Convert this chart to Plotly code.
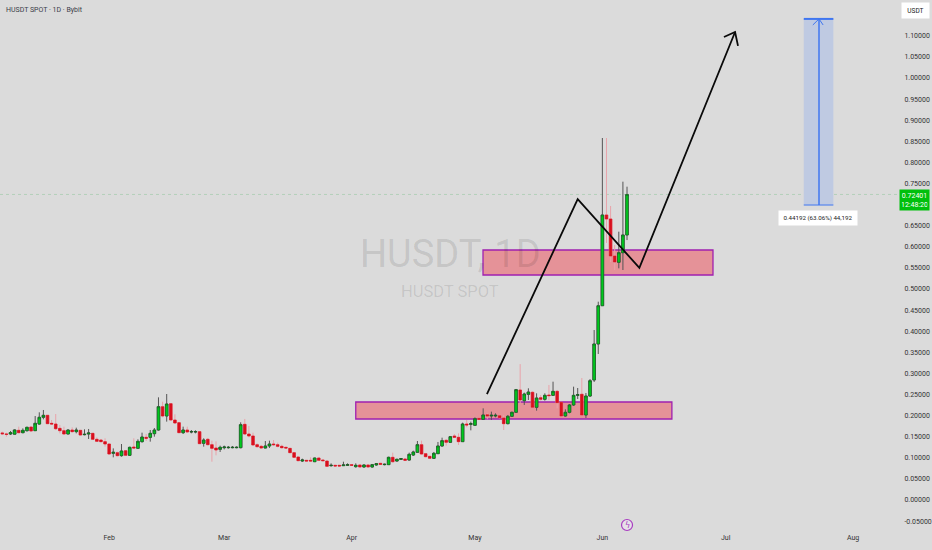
import pandas as pd
import plotly.graph_objects as go

start_date = "2025-01-06"
opens = [.159,.1564,.1564,.156,.1651,.1596,.1643,.173,.1643,.18,
.196,.2007,.1817,.1801,.1698,.1643,.1564,.1659,.162,.1651,
.1548,.1564,.158,.1438,.1422,.1383,.1327,.1106,.1122,.1051,
.1169,.1059,.1256,.1225,.1383,.1485,.1485,.1572,.1659,.2212,
.1991,.2283,.1896,.1833,.1596,.1659,.1612,.1612,.162,.1343,
.1438,.1311,.1232,.1201,.124,.124,.124,.124,.124,.1793,
.1564,.1517,.1311,.1272,.1232,.128,.1327,.1311,.1272,.1248,
.1224,.1122,.1019,.0924,.094,.094,.0908,.0995,.0948,.0924,
.0814,.0822,.0822,.0814,.0822,.0838,.079,.083,.0782,.083,
.0782,.083,.0869,.0838,.0838,.1011,.0924,.0964,.0972,.0948,
.1066,.113,.1311,.1098,.1035,.0988,.1098,.128,.1414,.1367,
.1517,.1485,.1383,.1801,.1793,.177,.1936,.1912,.2022,.1991,
.1991,.1999,.1943,.1809,.1983,.2078,.2607,.2354,.2504,.2552,
.2196,.2425,.2386,.2488,.248,.2575,.2315,.1991,.2078,.2252,
.248,.2505,.2014,.2464,.2844,.3697,.4604,.6754,.6659,.5782,
.5632,.586,.628]
highs = [.162,.1596,.1635,.1675,.1738,.1698,.1738,.1738,.199,.2078,
.2133,.2007,.1896,.2038,.1778,.1738,.1675,.1722,.1714,.1659,
.1675,.1683,.1588,.1485,.1438,.1462,.1327,.1224,.1146,.1327,
.1185,.1264,.1462,.1438,.1596,.1564,.1659,.1706,.2433,.233,
.2512,.2291,.203,.1841,.1738,.1738,.1659,.1651,.1628,.1462,
.147,.1406,.139,.1288,.1288,.128,.128,.1272,.1841,.192,
.1754,.1596,.1343,.1304,.1398,.1406,.1422,.1359,.1311,.1264,
.1232,.113,.1027,.098,.0948,.1011,.1003,.1003,.0956,.0932,
.0869,.083,.083,.0908,.0869,.0846,.0869,.0838,.0846,.0838,
.0854,.0877,.0877,.0861,.1027,.1122,.098,.0995,.098,.1122,
.1169,.1398,.1406,.1106,.1043,.1138,.1375,.1477,.1446,.1517,
.1564,.158,.1833,.1896,.1857,.1959,.1959,.2172,.2054,.2094,
.2054,.2015,.2015,.2015,.2094,.2631,.322,.2544,.2647,.2575,
.2528,.2488,.2528,.2726,.2804,.2607,.2323,.2149,.2275,.2686,
.2654,.2891,.2536,.2867,.4028,.4699,.8578,.8578,.6967,.6043,
.6358,.7543,.7424]
lows = [.154,.15,.154,.1556,.158,.158,.162,.1627,.1635,.1785,
.1912,.1801,.1778,.1659,.158,.1548,.1556,.1596,.158,.1525,
.1533,.1446,.1422,.1375,.1367,.1264,.1074,.1011,.1035,.1027,
.1043,.1043,.1209,.1209,.1359,.1398,.1383,.1501,.1643,.1959,
.1857,.1888,.1809,.1588,.1564,.1596,.158,.158,.1327,.1264,
.1296,.0908,.1059,.1138,.12,.1217,.1225,.1225,.1225,.154,
.1485,.1288,.124,.1217,.1224,.1232,.128,.1248,.1217,.1217,
.1114,.1003,.0924,.09,.0916,.0908,.09,.0932,.0924,.079,
.079,.0798,.079,.0806,.081,.0814,.0766,.0774,.0766,.0774,
.0766,.0814,.0838,.0822,.083,.0885,.0908,.0948,.0932,.0932,
.1043,.1114,.1074,.1011,.098,.0972,.109,.1264,.1288,.1351,
.147,.1304,.1375,.1722,.1651,.1754,.1896,.1896,.1912,.1896,
.1959,.1935,.1659,.1793,.1975,.207,.2291,.2252,.237,.2188,
.2117,.2354,.2354,.237,.2465,.2172,.1983,.1975,.2054,.2228,
.2393,.2006,.1943,.2441,.2796,.346,.4604,.609,.564,.545,
.549,.545,.616]
closes = [.157,.1556,.1596,.166,.1596,.1651,.1722,.1635,.1817,.196,
.2007,.1809,.1801,.169,.1643,.1564,.1659,.162,.1659,.154,
.1556,.1588,.1438,.139,.1383,.1327,.109,.113,.1051,.1161,
.1059,.1248,.1233,.139,.1493,.1462,.158,.1659,.2212,.1991,
.2275,.1896,.1825,.1596,.1659,.1612,.162,.162,.1335,.1422,
.1311,.1224,.1185,.1248,.1256,.1248,.1248,.1248,.1785,.1564,
.1517,.1304,.1264,.1232,.128,.1327,.1311,.1272,.124,.1232,
.1122,.1011,.0932,.0948,.0924,.0924,.0995,.094,.0932,.0798,
.0822,.0806,.0806,.083,.0838,.0822,.0822,.0782,.083,.0782,
.0838,.0861,.0846,.0846,.1011,.0908,.0964,.098,.094,.1082,
.1138,.1311,.109,.1027,.0988,.1106,.128,.1406,.1367,.1501,
.1485,.1383,.1801,.1778,.1809,.1928,.1912,.2015,.1991,.2007,
.2007,.1951,.1809,.1983,.2078,.2615,.237,.2512,.2559,.2196,
.2417,.2386,.248,.2473,.2575,.2307,.1991,.2078,.2252,.248,
.2496,.2014,.2464,.2827,.3697,.4604,.6754,.6659,.5782,.564,
.586,.628,.724]

last_price = 0.72401
y_ticks = [-0.05,0,0.05,0.10,0.15,0.20,0.25,0.30,0.35,0.40,0.45,0.50,0.55,0.60,0.65,0.75,0.80,0.85,0.90,0.95,1.00,1.05,1.10]
y_labels = ["-0.05000"] + [f"{v:.5f}" for v in y_ticks[1:]]
month_ticks = ["2025-02-01","2025-03-01","2025-04-01","2025-05-01","2025-06-01","2025-07-01","2025-08-01"]
month_labels = ["Feb","Mar","Apr","May","Jun","Jul","Aug"]
path_x = ["2025-05-03 22:00","2025-05-26","2025-06-10","2025-07-03 07:00"]
path_y = [0.251,0.713,0.55,1.109]
head_x = ["2025-06-30 14:00","2025-07-03 07:00","2025-07-04"]
head_y = [1.097,1.109,1.076]
blue_x = ["2025-07-23 17:00","2025-07-23 17:00"]
blue_y = [0.699,1.14]
blue_head_x = ["2025-07-22 05:00","2025-07-23 17:00","2025-07-24 17:00"]
blue_head_y = [1.1256,1.14,1.1256]

BG = "#dbdbdb"
FONT = "Roboto, sans-serif"
dates = pd.date_range(start_date, periods=len(opens), freq="D")
tops = [max(a, b) for a, b in zip(opens, closes)]
bots = [min(a, b) for a, b in zip(opens, closes)]

fig = go.Figure()
fig.add_trace(go.Candlestick(x=dates, open=opens, high=highs, low=lows, close=closes, whiskerwidth=0,
    increasing=dict(line=dict(color="#555555", width=1), fillcolor="#555555"),
    decreasing=dict(line=dict(color="#e9a3aa", width=1), fillcolor="#e9a3aa")))
fig.add_trace(go.Candlestick(x=dates, open=opens, high=tops, low=bots, close=closes, whiskerwidth=0,
    increasing=dict(line=dict(color="#14591f", width=0.5), fillcolor="#00c81e"),
    decreasing=dict(line=dict(color="#d8101f", width=0.6), fillcolor="#d8101f")))
black = dict(color="#0a0a0a", width=1.8)
fig.add_trace(go.Scatter(x=path_x, y=path_y, mode="lines", line=black))
fig.add_trace(go.Scatter(x=head_x, y=head_y, mode="lines", line=black))
blue = dict(color="#3f76f0", width=1.5)
fig.add_trace(go.Scatter(x=blue_x, y=blue_y, mode="lines", line=blue))
fig.add_trace(go.Scatter(x=blue_head_x, y=blue_head_y, mode="lines", line=dict(color="#3f76f0", width=1)))
fig.add_trace(go.Scatter(x=["2025-06-07"], y=[-0.0592], mode="markers",
    marker=dict(size=11, color="#e6e0e8", line=dict(color="#a83cc0", width=1.2))))

purple = dict(color="#a020b0", width=1.3)
shapes = [
    dict(type="rect", x0="2025-04-02", x1="2025-06-17 22:00", y0=0.192, y1=0.2322, line=purple, fillcolor="#e59298", layer="below"),
    dict(type="rect", x0="2025-05-02 23:00", x1="2025-06-27 22:00", y0=0.5332, y1=0.5924, line=purple, fillcolor="#e59298", layer="below"),
    dict(type="rect", x0="2025-07-20", x1="2025-07-27 05:00", y0=0.699, y1=1.14, line=dict(width=0), fillcolor="#bfcae2", layer="below"),
    dict(type="line", x0="2025-07-20", x1="2025-07-27 05:00", y0=1.14, y1=1.14, line=dict(color="#3f76f0", width=2)),
    dict(type="line", x0="2025-07-20", x1="2025-07-27 05:00", y0=0.699, y1=0.699, line=dict(color="#3f76f0", width=1)),
    dict(type="line", xref="paper", x0=0, x1=900/932, y0=last_price, y1=last_price, line=dict(color="rgba(40,170,70,0.28)", width=0.8, dash="dot"), layer="below"),
]

def pa(text, x, y, size, color, xanchor="center", **kw):
    return dict(text=text, xref="paper", yref="paper", x=x/932, y=1-y/532, showarrow=False,
                xanchor=xanchor, yanchor="middle",
                font=dict(family=kw.pop("family", FONT), size=size, color=color), **kw)

annotations = [
    pa("HUSDT SPOT \u00b7 1D \u00b7 Bybit", 4, 9.5, 7, "#3a3d4a", xanchor="left"),
    pa("HUSDT, 1D", 450, 254, 38, "rgba(0,0,0,0.11)"),
    pa("HUSDT SPOT", 450, 291, 16.5, "rgba(0,0,0,0.11)"),
    pa("USDT", 915.5, 10.5, 6.5, "#222222", bgcolor="white", borderpad=3.5, width=20),
    pa("0.44192 (63.06%) 44,192", 818, 218, 6.2, "#222222", bgcolor="white", borderpad=3, width=72),
    pa("0.72401<br>12:48:20", 914.5, 199.5, 7, "white", bgcolor="#00c00c", borderpad=1.5, width=26, align="center"),
    pa("\u03df", 627.7, 525, 8, "#a83cc0", family="DejaVu Sans"),
]

fig.update_layout(
    width=932, height=550, margin=dict(l=0, r=0, t=0, b=18),
    paper_bgcolor=BG, plot_bgcolor=BG, showlegend=False, boxmode="overlay", boxgap=0.1,
    shapes=shapes, annotations=annotations,
    font=dict(family=FONT, size=7, color="#333333"),
    xaxis=dict(domain=[0, 900/932], type="date", range=["2025-01-05 10:34", "2025-08-12 10:00"],
               rangeslider=dict(visible=False), showgrid=False, zeroline=False, showline=False, automargin=False,
               tickmode="array", tickvals=month_ticks, ticktext=month_labels, ticks="", tickfont=dict(size=7, color="#333333")),
    yaxis=dict(side="right", range=[-0.0758, 1.1848], showgrid=False, zeroline=False, showline=False, automargin=False,
               tickmode="array", tickvals=y_ticks, ticktext=y_labels, ticks="outside", ticklen=2, tickcolor=BG,
               tickfont=dict(size=7, color="#333333")),
)
fig.write_html("out.html", config=dict(displayModeBar=False),
               post_script="document.body.style.margin='0';document.body.style.background='#dbdbdb';")
